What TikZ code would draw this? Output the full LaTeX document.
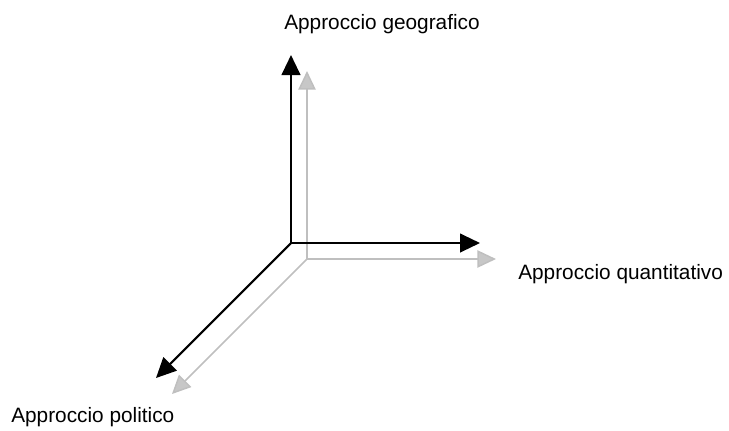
\documentclass[tikz,border=0pt]{standalone}
\usepackage{fontspec}
\setmainfont{Liberation Sans}
\usetikzlibrary{arrows.meta}
\begin{document}
\begin{tikzpicture}[x=0.75pt,y=-0.75pt,
  asse/.style={line width=1.6pt,-{Triangle[length=15pt,width=14pt]}},
  ombra/.style={draw=black!25,line width=1.1pt,-{Triangle[length=14pt,width=13pt,fill=black!22]}},
  etichetta/.style={font=\fontsize{15.6}{18}\selectfont,inner sep=0pt}]
\useasboundingbox (0,0) rectangle (729,430);
% assi in grigio (ombra)
\coordinate (o2) at (307,259);
\coordinate (y2) at (307,71);
\coordinate (x2) at (496,259);
\coordinate (z2) at (172,394);
\draw[ombra] (o2) -- (y2);
\draw[ombra] (o2) -- (x2);
\draw[ombra] (o2) -- (z2);
% assi in nero
\coordinate (o) at (291,243);
\coordinate (y) at (291,55);
\coordinate (x) at (480,243);
\coordinate (z) at (156,378);
\draw[asse] (o) -- (y);
\draw[asse] (o) -- (x);
\draw[asse] (o) -- (z);
% etichette
\node[etichetta,anchor=base] (geo) at (382,29) {Approccio geografico};
\node[etichetta,anchor=base west] (quant) at (518,279) {Approccio quantitativo};
\node[etichetta,anchor=base west] (pol) at (11,422) {Approccio politico};
\end{tikzpicture}
\end{document}
